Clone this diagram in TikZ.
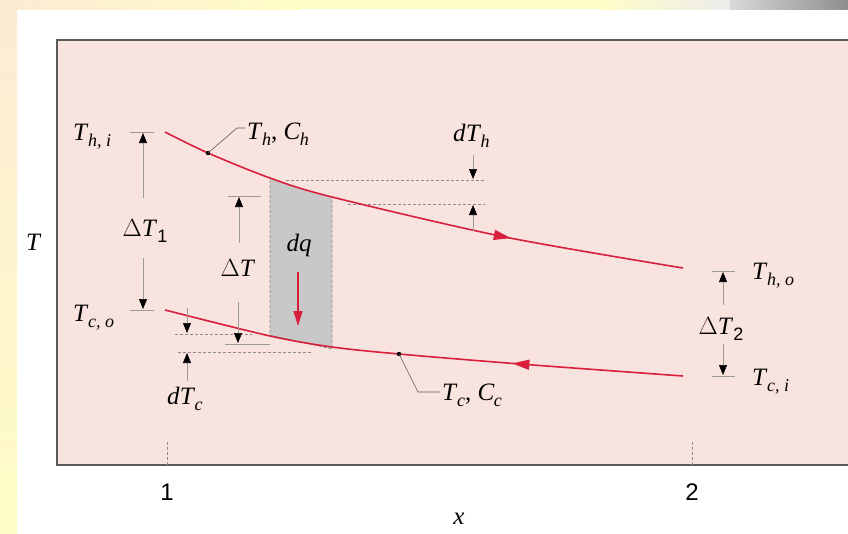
\documentclass[tikz,border=0pt]{standalone}
\usepackage{fontspec}
\setmainfont{Liberation Serif}
\newfontfamily\sansdig{Liberation Sans}
\usetikzlibrary{arrows.meta,decorations.markings}
\definecolor{bgpink}{HTML}{F9E3DF}
\definecolor{curvered}{HTML}{D81F3C}
\definecolor{boxgray}{HTML}{C8C8C8}
\definecolor{dashgray}{HTML}{8C8C8C}
\definecolor{tickgray}{HTML}{9A9A9A}
\definecolor{framegray}{HTML}{5A5A5A}
\definecolor{cream}{HTML}{FCEBD4}
\definecolor{paleyellow}{HTML}{FFFDC6}
\definecolor{stripgray}{HTML}{8E8E8E}
\newcommand{\symsub}[2]{\textit{#1}\kern-0.5pt\raisebox{-6pt}{\fontsize{18}{18}\selectfont\textit{#2}}}
\newcommand{\digsub}[1]{\raisebox{-6pt}{\sansdig\fontsize{18}{18}\selectfont #1}}
\tikzset{
  lbl/.style={inner sep=0pt, font=\fontsize{25}{27}\selectfont},
  tickline/.style={draw=tickgray, line width=0.7pt},
  dimarrow/.style={draw=tickgray, line width=0.7pt, -{Triangle[length=10pt,width=8pt,fill=black,color=black]}},
  guide/.style={draw=dashgray, line width=0.7pt, dash pattern=on 3pt off 2pt},
  leader/.style={draw=framegray, line width=0.6pt},
  flowcurve/.style={draw=curvered, line width=1.6pt, postaction={decorate}},
}
\begin{document}
\begin{tikzpicture}[x=1pt,y=-1pt]
\useasboundingbox (0,0) rectangle (848,533);
% page background
\fill[white] (0,0) rectangle (848,533);
\shade[left color=cream, right color=paleyellow] (0,0) rectangle (300,9);
\fill[paleyellow] (300,0) rectangle (600,9);
\shade[left color=paleyellow, right color=white!85!gray] (600,0) rectangle (730,9);
\shade[left color=white!70!gray, right color=stripgray] (730,0) rectangle (848,9);
\shade[top color=cream, bottom color=paleyellow] (0,9) rectangle (17,533);
% plot frame
\fill[bgpink] (57,40) rectangle (848,465);
\draw[framegray, line width=1.6pt] (848,40) -- (57,40) -- (57,465) -- (848,465);
% dq element
\fill[boxgray] (270,178) -- (301,188) -- (332,197) -- (332,349) -- (270,335) -- cycle;
\draw[guide] (270,180) -- (270,335) -- (332,349) -- (332,197);
\draw[guide] (286,180) -- (485,180);
\draw[guide] (348,204) -- (485,204);
\draw[guide] (175,334) -- (252,334);
\draw[guide] (178,352) -- (312,352);
% curves
\draw[flowcurve, decoration={markings, mark=at position 0.675 with {\arrow{Triangle[length=17pt,width=10pt]}}}]
  plot[smooth] coordinates {(165,132) (208,153) (270,178) (332,197) (505,237) (683,268)};
\draw[flowcurve, decoration={markings, mark=at position 0.327 with {\arrow{Triangle[length=17pt,width=10pt]}}}]
  plot[smooth] coordinates {(683,376) (520,364) (399,354) (332,347) (270,336) (165,310)};
% dots and leaders
\fill (208,153) circle (2.2pt) coordinate (hdot);
\fill (399,354) circle (2.2pt) coordinate (cdot);
\node[lbl, anchor=base west] (thch) at (247,139) {\symsub{T}{h}, \symsub{C}{h}};
\node[lbl, anchor=base west] (tccc) at (442,400) {\symsub{T}{c}, \symsub{C}{c}};
\coordinate (hbend) at (237,128);
\coordinate (cbend) at (418,392);
\draw[leader] (hdot) -- (hbend) -- ([xshift=-2pt]thch.west |- hbend);
\draw[leader] (cdot) -- (cbend) -- ([xshift=-2pt]tccc.west |- cbend);
% end labels
\node[lbl, anchor=base west] (thi) at (73,140) {\symsub{T}{h, i}};
\node[lbl, anchor=base west] (tco) at (73,321) {\symsub{T}{c, o}};
\node[lbl, anchor=base west] (tho) at (752,279) {\symsub{T}{h, o}};
\node[lbl, anchor=base west] (tci) at (752,385) {\symsub{T}{c, i}};
% Delta T1
\draw[tickline] (130,132) -- (154,132);
\draw[tickline] (130,310) -- (154,310);
\node[lbl, anchor=base] (dT1) at (145,236) {$\Delta$\textit{T}\digsub{1}};
\coordinate (dT1top) at (143,133);
\coordinate (dT1bot) at (143,309);
\coordinate (dT1a) at (143,198);
\coordinate (dT1b) at (143,258);
\draw[dimarrow] (dT1a) -- (dT1top);
\draw[dimarrow] (dT1b) -- (dT1bot);
% Delta T
\draw[tickline] (228,196) -- (261,196);
\draw[tickline] (225,344) -- (270,344);
\node[lbl, anchor=base] (dT) at (238,276) {$\Delta$\textit{T}};
\coordinate (dTtop) at (239,197);
\coordinate (dTbot) at (238,343);
\coordinate (dTa) at (239,243);
\coordinate (dTb) at (238,302);
\draw[dimarrow] (dTa) -- (dTtop);
\draw[dimarrow] (dTb) -- (dTbot);
% Delta T2
\draw[tickline] (712,271) -- (735,271);
\draw[tickline] (712,376) -- (735,376);
\node[lbl, anchor=base] (dT2) at (721,334) {$\Delta$\textit{T}\digsub{2}};
\coordinate (dT2top) at (723,272);
\coordinate (dT2bot) at (723,375);
\coordinate (dT2a) at (723,305);
\coordinate (dT2b) at (723,344);
\draw[dimarrow] (dT2a) -- (dT2top);
\draw[dimarrow] (dT2b) -- (dT2bot);
% dT_h
\node[lbl, anchor=base west] (dth) at (453,141) {\textit{d}\symsub{T}{h}};
\coordinate (dtha) at (473,155);
\coordinate (dthtip) at (473,179);
\coordinate (dthb) at (473,231);
\coordinate (dthtipb) at (473,205);
\draw[dimarrow] (dtha) -- (dthtip);
\draw[dimarrow] (dthb) -- (dthtipb);
% dT_c
\node[lbl, anchor=base west] (dtc) at (167,404) {\textit{d}\symsub{T}{c}};
\coordinate (dtca) at (187,308);
\coordinate (dtctip) at (187,333);
\coordinate (dtcb) at (187,381);
\coordinate (dtctipb) at (187,353);
\draw[dimarrow] (dtca) -- (dtctip);
\draw[dimarrow] (dtcb) -- (dtctipb);
% dq
\node[lbl, anchor=base] (dq) at (299,251) {\textit{dq}};
\coordinate (dqa) at (298,272);
\coordinate (dqtip) at (298,326);
\draw[curvered, line width=1.3pt, -{Triangle[length=15pt,width=9pt]}] (dqa) -- (dqtip);
% axes
\node[lbl, anchor=base west] (Tax) at (26,250) {\textit{T}};
\node[lbl, anchor=base] (xax) at (459,524) {\textit{x}};
\node[lbl, font=\sansdig\fontsize{24}{26}\selectfont] (one) at (167,492) {1};
\node[lbl, font=\sansdig\fontsize{24}{26}\selectfont] (two) at (692,492) {2};
\draw[guide] (167,442) -- (167,465);
\draw[guide] (692,442) -- (692,465);
\end{tikzpicture}
\end{document}
